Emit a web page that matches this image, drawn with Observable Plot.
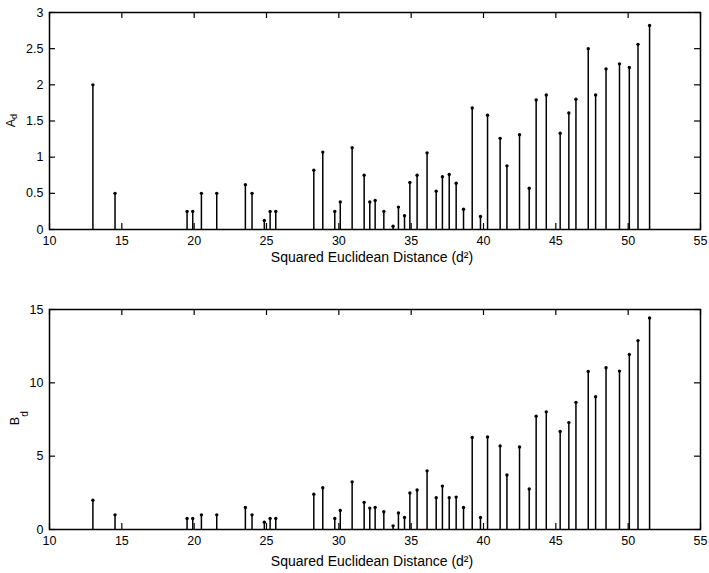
<!DOCTYPE html>
<html>
<head>
<meta charset="utf-8">
<script src="https://cdn.jsdelivr.net/npm/d3@7"></script>
<script src="https://cdn.jsdelivr.net/npm/@observablehq/plot@0.6"></script>
<style>
  html, body { margin: 0; padding: 0; background: #fff; }
  #chart { width: 709px; height: 573px; overflow: hidden; }
  #chart svg { display: block; }
</style>
</head>
<body>
<div id="chart"></div>
<script>
// Squared Euclidean distances (d^2) of the spectral lines
const distances = [13.0, 14.53, 19.51, 19.9, 20.5, 21.56, 23.54, 24.0, 24.85, 25.25,
  25.64, 28.27, 28.89, 29.72, 30.1, 30.92, 31.75, 32.14, 32.51, 33.11,
  33.75, 34.12, 34.54, 34.91, 35.41, 36.1, 36.73, 37.16, 37.63, 38.11,
  38.62, 39.22, 39.79, 40.28, 41.15, 41.62, 42.49, 43.16, 43.64, 44.34,
  45.3, 45.9, 46.39, 47.24, 47.75, 48.47, 49.4, 50.08, 50.68, 51.48];
// A_d values (top panel)
const aValues = [2, 0.5, 0.25, 0.25, 0.5, 0.5, 0.62, 0.5, 0.125, 0.25,
  0.25, 0.82, 1.07, 0.25, 0.38, 1.13, 0.75, 0.38, 0.4, 0.25,
  0.045, 0.31, 0.19, 0.65, 0.75, 1.06, 0.53, 0.73, 0.76, 0.64,
  0.28, 1.68, 0.18, 1.58, 1.26, 0.88, 1.31, 0.57, 1.79, 1.86,
  1.33, 1.61, 1.8, 2.5, 1.86, 2.22, 2.29, 2.24, 2.56, 2.82];
// B_d values (bottom panel)
const bValues = [2, 1, 0.75, 0.75, 1, 1, 1.5, 1, 0.5, 0.75,
  0.75, 2.4, 2.85, 0.75, 1.3, 3.25, 1.85, 1.46, 1.5, 1.21,
  0.25, 1.12, 0.82, 2.49, 2.69, 4, 2.17, 2.96, 2.17, 2.21,
  1.5, 6.27, 0.82, 6.31, 5.7, 3.72, 5.63, 2.76, 7.73, 8.02,
  6.68, 7.29, 8.66, 10.78, 9.05, 11.03, 10.8, 11.94, 12.88, 14.42];

const xTicks = [10, 15, 20, 25, 30, 35, 40, 45, 50, 55];
const aTicks = [0, 0.5, 1, 1.5, 2, 2.5, 3];
const bTicks = [0, 5, 10, 15];
const xLabel = "Squared Euclidean Distance (d²)";

const W = 709, ML = 49, MR = 9;
const FW = W - ML - MR;
const TICK = 6;
const FONT = "'Liberation Sans', Arial, Helvetica, sans-serif";

function panel({values, yTicks, yMax, height, mt, mb, sym, symDx, symDy, subDx, subDy, subSize, labelDy}) {
  const data = distances.map((x, i) => ({x, v: values[i]}));
  const FH = height - mt - mb;
  return Plot.plot({
    width: W, height,
    marginLeft: ML, marginRight: MR, marginTop: mt, marginBottom: mb,
    style: {fontFamily: FONT, fontSize: "12px", color: "#000", background: "#fff"},
    x: {domain: [10, 55], label: null},
    y: {domain: [0, yMax], label: null},
    marks: [
      Plot.ruleX(data, {x: "x", y1: 0, y2: "v", stroke: "#000", strokeWidth: 1.5}),
      Plot.dot(data, {x: "x", y: "v", r: 1.7, fill: "#000", stroke: null}),
      // inward ticks on all four sides
      Plot.ruleX(xTicks, {x: d => d, insetTop: FH - TICK, stroke: "#000", strokeWidth: 1.2}),
      Plot.ruleX(xTicks, {x: d => d, insetBottom: FH - TICK, stroke: "#000", strokeWidth: 1.2}),
      Plot.ruleY(yTicks, {y: d => d, insetRight: FW - TICK, stroke: "#000", strokeWidth: 1.2}),
      Plot.ruleY(yTicks, {y: d => d, insetLeft: FW - TICK, stroke: "#000", strokeWidth: 1.2}),
      Plot.frame({stroke: "#000", strokeWidth: 1.5}),
      Plot.axisX({ticks: xTicks, tickSize: 0, tickPadding: 7, tickFormat: d => `${d}`, label: null, fontSize: 12.5}),
      Plot.axisY({ticks: yTicks, tickSize: 0, tickPadding: 6, tickFormat: d => `${d}`, label: null, fontSize: 12.5}),
      Plot.text([xLabel], {text: d => d, frameAnchor: "bottom", dx: -3, dy: labelDy, lineAnchor: "bottom", fontSize: 14}),
      Plot.text([sym], {text: d => d, frameAnchor: "left", rotate: -90, dx: symDx, dy: symDy, lineAnchor: "bottom", textAnchor: "middle", fontSize: 12.5}),
      Plot.text(["d"], {text: d => d, frameAnchor: "left", rotate: -90, dx: subDx, dy: subDy, lineAnchor: "bottom", textAnchor: "middle", fontSize: subSize})
    ]
  });
}

const topPanel = panel({values: aValues, yTicks: aTicks, yMax: 3, height: 270, mt: 12, mb: 41,
  sym: "A", symDx: -35, symDy: 2, subDx: -32.5, subDy: -4.5, subSize: 9, labelDy: 32});
const bottomPanel = panel({values: bValues, yTicks: bTicks, yMax: 15, height: 303, mt: 39, mb: 44,
  sym: "B", symDx: -30.5, symDy: 1.5, subDx: -21.5, subDy: -5.5, subSize: 10, labelDy: 36});

const chart = document.getElementById("chart");
chart.appendChild(topPanel);
chart.appendChild(bottomPanel);
</script>
</body>
</html>
